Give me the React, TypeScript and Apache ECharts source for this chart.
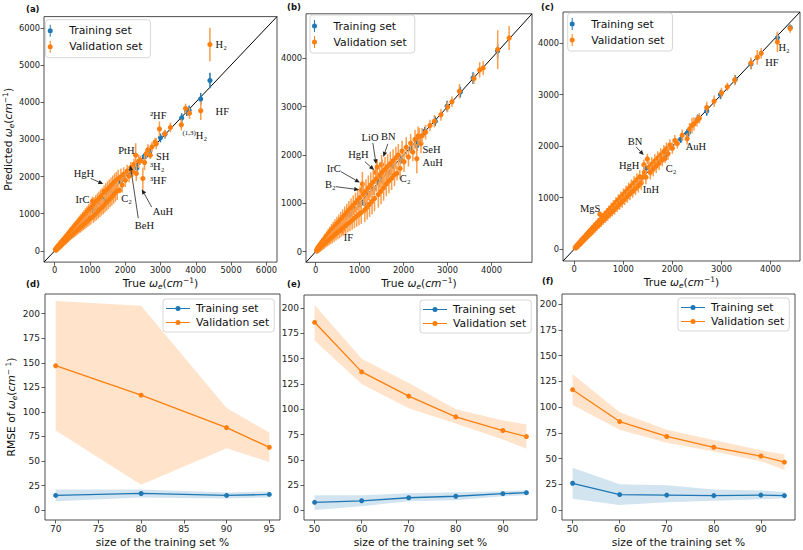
import React, { useEffect, useRef } from "react";
import * as echarts from "echarts";

const BLUE = "#1f77b4";
const ORANGE = "#ff7f0e";
const FONT = "'DejaVu Sans', sans-serif";
const SERIF = "'Liberation Serif', 'DejaVu Serif', serif";

// ---------- top row: parity plots [true, predicted, error] ----------
const limA = [-300, 6300];
const limB = [-220, 4920];
const limC = [-229, 4600];
const ticksA = [0, 1000, 2000, 3000, 4000, 5000, 6000];
const ticksB = [0, 1000, 2000, 3000, 4000];
const ticksC = [0, 1000, 2000, 3000, 4000];

const trainA = [
  [35, 42, 20], [118, 110, 25], [205, 222, 30], [318, 309, 35], [412, 431, 35], [536, 522, 40], [618, 640, 45], [742, 728, 45],
  [856, 871, 50], [948, 936, 55], [1063, 1081, 55], [1172, 1160, 60], [1268, 1290, 60], [1391, 1372, 65], [1470, 1552, 70], [1583, 1598, 70],
  [1694, 1676, 75], [1868, 1872, 80], [1952, 1940, 85], [2096, 2110, 90], [2290, 2300, 100], [2330, 2232, 110], [2410, 2415, 100],
  [2540, 2538, 90], [2580, 2560, 95], [2680, 2650, 100], [2998, 3040, 120], [3125, 3135, 110], [3600, 3572, 130], [3745, 3748, 120],
  [3810, 3782, 130], [4138, 4085, 160], [4401, 4582, 210],
];
const validA = [
  [22, 40, 35], [38, 18, 35], [52, 82, 45], [66, 48, 40], [81, 112, 50], [97, 72, 45], [112, 152, 55], [128, 96, 50],
  [146, 186, 60], [161, 128, 55], [179, 226, 60], [196, 160, 65], [213, 262, 65], [229, 196, 60], [247, 306, 70], [266, 222, 65],
  [284, 344, 70], [302, 254, 75], [321, 386, 75], [339, 286, 80], [358, 430, 80], [377, 322, 85], [395, 470, 85], [414, 352, 80],
  [433, 516, 90], [452, 390, 90], [471, 560, 95], [490, 420, 90], [510, 606, 100], [529, 448, 95], [549, 650, 100], [568, 486, 105],
  [588, 690, 105], [607, 520, 110], [627, 736, 110], [647, 552, 115], [667, 780, 120], [688, 586, 120], [708, 826, 125], [729, 618, 125],
  [749, 866, 130], [770, 660, 135], [791, 912, 135], [812, 694, 140], [833, 956, 140], [855, 730, 145], [876, 1000, 150], [898, 770, 150],
  [919, 1046, 155], [941, 806, 155], [963, 1094, 160], [985, 846, 165], [1007, 1136, 165], [1029, 884, 170], [1052, 1180, 170], [1075, 1340, 120],
  [1097, 926, 175], [1120, 1262, 180], [1143, 976, 180], [1166, 1314, 185], [1189, 1016, 190], [1212, 1356, 190], [1236, 1066, 195], [1259, 1404, 195],
  [1283, 1106, 200], [1306, 1452, 200], [1330, 1156, 205], [1354, 1494, 205], [1378, 1196, 210], [1402, 1598, 160], [1426, 1246, 210], [1450, 1602, 215],
  [1475, 1296, 215], [1499, 1652, 220], [1524, 1346, 220], [1548, 1702, 220], [1573, 1398, 225], [1598, 1752, 225], [1623, 1448, 230], [1648, 1800, 230],
  [1673, 1500, 230], [1698, 1850, 235], [1724, 1558, 235], [1749, 1892, 235], [1775, 1610, 240], [1800, 1942, 240], [1842, 1632, 80], [1878, 1996, 220],
  [1912, 1770, 200], [1958, 2060, 190], [2004, 1900, 180], [2056, 2150, 170], [2108, 2010, 160], [2160, 2240, 150], [2212, 2130, 140],
  [2250, 2330, 150], [2297, 2575, 320], [2315, 2080, 200], [2380, 2410, 180], [2430, 2440, 120], [2500, 1945, 300], [2548, 2378, 200], [2600, 2620, 120],
  [2645, 2720, 150], [2710, 2572, 100], [2760, 2800, 130], [2850, 2930, 110], [2880, 2880, 150], [2970, 3280, 200], [3120, 3150, 110], [3280, 3320, 130],
  [3590, 3390, 150], [3710, 3830, 130], [3820, 3700, 150], [4140, 3770, 250], [4400, 5550, 450],
];

const trainB = [
  [40, 48, 25], [132, 124, 30], [226, 240, 30], [335, 322, 35], [448, 466, 40], [552, 540, 40], [664, 680, 45], [772, 760, 45], [885, 900, 50], [992, 978, 55],
  [1098, 1002, 60], [1195, 1210, 60], [1312, 1296, 65], [1420, 1436, 65], [1502, 1488, 70], [1640, 1620, 75], [1760, 1778, 75], [1940, 1902, 80], [2160, 2128, 90], [2300, 2192, 110],
  [2312, 2312, 100], [2345, 2322, 100], [2480, 2492, 90], [2720, 2700, 100], [2990, 3010, 110], [3290, 3300, 110], [3580, 3590, 120], [4138, 4150, 150],
];
const validB = [
  [18, 30, 45], [34, 12, 50], [47, 80, 55], [63, 40, 55], [79, 120, 65], [94, 60, 60], [111, 160, 70], [127, 90, 70], [144, 200, 80], [160, 120, 80],
  [178, 240, 90], [195, 150, 90], [212, 280, 95], [229, 180, 95], [248, 320, 100], [266, 210, 100], [284, 365, 110], [303, 240, 110], [322, 405, 115], [341, 270, 115],
  [360, 450, 125], [380, 300, 125], [400, 490, 130], [420, 335, 130], [441, 530, 140], [462, 370, 140], [483, 575, 145], [504, 400, 145], [526, 620, 150], [548, 435, 150],
  [570, 665, 160], [592, 470, 160], [610, 448, 100], [615, 710, 165], [638, 500, 165], [661, 760, 175], [684, 540, 175], [708, 810, 180], [732, 575, 180], [756, 860, 190],
  [780, 610, 190], [805, 910, 195], [830, 650, 195], [855, 960, 205], [880, 690, 205], [906, 1010, 210], [932, 730, 215], [958, 1070, 220], [984, 770, 225], [1010, 1120, 230],
  [1037, 810, 235], [1048, 1272, 150], [1062, 1400, 250], [1090, 1190, 240], [1117, 860, 245], [1144, 1250, 250], [1171, 920, 255], [1198, 1320, 255], [1226, 980, 260], [1254, 1380, 260],
  [1282, 1040, 265], [1310, 1440, 265], [1338, 1100, 265], [1368, 1640, 100], [1380, 1510, 270], [1400, 1750, 150], [1426, 1180, 270], [1456, 1580, 270], [1486, 1250, 270], [1500, 1800, 200],
  [1516, 1640, 265], [1546, 1320, 265], [1576, 1700, 260], [1606, 1400, 255], [1636, 1760, 255], [1666, 1460, 250], [1697, 1820, 250], [1728, 1520, 245], [1760, 1880, 240], [1792, 1590, 235],
  [1824, 1940, 230], [1850, 1620, 150], [1880, 2000, 225], [1920, 1720, 220], [1965, 2080, 215], [2010, 1860, 210], [2060, 2160, 205], [2110, 1960, 200], [2160, 2240, 195], [2210, 2060, 190],
  [2260, 2320, 200], [2300, 1920, 300], [2330, 2390, 200], [2360, 2380, 180], [2395, 2235, 200], [2420, 2400, 160], [2500, 2470, 150], [2600, 2610, 120], [2700, 2700, 130],
  [2850, 2830, 120], [3000, 2990, 110], [3100, 3100, 110], [3270, 3320, 150], [3600, 3580, 110], [3730, 3760, 160], [3810, 3800, 150], [4140, 4180, 400], [4400, 4420, 250],
];

const trainC = [
  [30, 36, 15], [140, 134, 20], [248, 260, 20], [360, 352, 25], [470, 482, 25], [585, 576, 30], [700, 712, 30], [812, 800, 35], [920, 936, 35], [1035, 1020, 40],
  [1150, 1166, 40], [1262, 1250, 45], [1375, 1390, 45], [1460, 1570, 50], [1600, 1592, 50], [1720, 1732, 55], [1850, 1830, 60], [1882, 1852, 60], [2170, 2130, 70], [2300, 2250, 80],
  [2330, 2262, 80], [2520, 2530, 80], [2700, 2680, 90], [2980, 3000, 90], [3280, 3290, 90], [3600, 3590, 100], [4140, 4100, 100], [4400, 4300, 60],
];
const validC = [
  [20, 30, 30], [36, 24, 30], [51, 70, 35], [67, 52, 35], [83, 106, 35], [99, 82, 40], [115, 140, 40], [131, 112, 40], [148, 176, 45], [165, 146, 45],
  [182, 212, 45], [199, 176, 50], [216, 248, 50], [234, 212, 50], [252, 286, 55], [270, 246, 55], [288, 324, 55], [306, 280, 60], [325, 362, 60], [344, 316, 60],
  [363, 402, 65], [382, 352, 65], [401, 442, 65], [421, 390, 70], [441, 484, 70], [461, 428, 70], [481, 524, 75], [501, 466, 75], [522, 680, 50], [530, 566, 75], [548, 512, 80],
  [570, 616, 80], [592, 556, 80], [614, 662, 85], [636, 596, 85], [659, 710, 85], [682, 640, 90], [705, 758, 90], [728, 684, 90], [752, 806, 95], [776, 728, 95],
  [800, 856, 95], [824, 772, 100], [849, 908, 100], [874, 820, 100], [899, 960, 105], [924, 866, 105], [950, 1012, 105], [976, 916, 110], [1002, 1066, 110], [1028, 966, 110],
  [1055, 1120, 115], [1082, 1016, 115], [1109, 1176, 115], [1136, 1068, 120], [1164, 1232, 120], [1192, 1120, 120], [1220, 1290, 125], [1248, 1172, 125], [1277, 1348, 125], [1306, 1226, 130],
  [1335, 1404, 130], [1364, 1282, 130], [1394, 1396, 120], [1420, 1640, 100], [1430, 1494, 135], [1460, 1396, 135], [1490, 1750, 100], [1520, 1590, 135], [1550, 1486, 135],
  [1580, 1650, 135], [1610, 1548, 135], [1640, 1710, 135], [1670, 1608, 130], [1700, 1770, 130], [1730, 1668, 130], [1762, 1830, 125], [1794, 1730, 125], [1826, 1896, 125], [1850, 1760, 90],
  [1880, 1950, 120], [1912, 1850, 115], [1950, 2020, 110], [2000, 1960, 110], [2050, 2110, 105], [2100, 2050, 100],
  [2200, 2210, 110], [2300, 2140, 110], [2350, 2330, 120], [2400, 2400, 150], [2440, 2430, 130], [2500, 2490, 110], [2550, 2540, 100], [2700, 2750, 110], [2850, 2870, 110],
  [3000, 3030, 100], [3120, 3150, 80], [3270, 3280, 100], [3600, 3610, 110], [3730, 3720, 140], [3810, 3800, 100], [4140, 4020, 200], [4400, 4280, 80],
];

// annotation texts (anchored at data coordinates, left / middle)
const labelsA = [
  { text: "H₂", x: 4560, y: 5550 }, { text: "HF", x: 4560, y: 3740 }, { text: "²HF", x: 2700, y: 3650 },
  { text: "{s|(1,3)}H₂", x: 3620, y: 3110 }, { text: "PtH", x: 1800, y: 2710 }, { text: "SH", x: 2870, y: 2550 },
  { text: "³H₂", x: 2700, y: 2260 }, { text: "³HF", x: 2700, y: 1900 }, { text: "AuH", x: 2780, y: 1050 },
  { text: "BeH", x: 2270, y: 690 }, { text: "HgH", x: 540, y: 2080 }, { text: "IrC", x: 590, y: 1380 }, { text: "C₂", x: 1890, y: 1410 },
];
const arrowsA = [
  [1020, 1950, 1380, 1800], [2370, 880, 2145, 2300], [2750, 1180, 2470, 1660],
];
const labelsB = [
  { text: "LiO", x: 1045, y: 2360 }, { text: "BN", x: 1485, y: 2380 }, { text: "HgH", x: 740, y: 2000 },
  { text: "IrC", x: 250, y: 1725 }, { text: "B₂", x: 210, y: 1380 }, { text: "IF", x: 640, y: 300 },
  { text: "C₂", x: 1915, y: 1520 }, { text: "SeH", x: 2430, y: 2120 }, { text: "AuH", x: 2430, y: 1850 },
];
const arrowsB = [
  [1300, 2250, 1375, 1810], [1640, 2230, 1540, 1960], [1120, 1860, 1330, 1690], [575, 1655, 1005, 1430], [455, 1345, 990, 1280],
];
const labelsC = [
  { text: "H₂", x: 4160, y: 3920 }, { text: "HF", x: 3890, y: 3620 }, { text: "AuH", x: 2270, y: 2000 },
  { text: "BN", x: 1090, y: 2090 }, { text: "HgH", x: 910, y: 1630 }, { text: "C₂", x: 1865, y: 1560 },
  { text: "InH", x: 1395, y: 1160 }, { text: "MgS", x: 115, y: 780 },
];
const arrowsC = [[1260, 1985, 1415, 1825]];

// ---------- bottom row: learning curves ----------
const sizeD = [70, 80, 90, 95];
const trainD = [15, 17, 15, 16];
const trainDLo = [9, 13, 12, 13];
const trainDHi = [21, 21, 18, 19];
const validD = [147, 117, 84, 64];
const validDLo = [81, 26, 63, 49];
const validDHi = [213, 208, 104, 79];

const sizeE = [50, 60, 70, 80, 90, 95];
const trainE = [8, 9.5, 12.5, 14, 16.5, 17.5];
const trainELo = [0.5, 4, 9, 10, 14, 15];
const trainEHi = [15, 15, 17, 18, 19, 20];
const validE = [186, 137, 113, 92.5, 79, 73];
const validELo = [168, 125, 101, 86, 70, 61];
const validEHi = [203, 150, 126, 100, 89, 85];

const sizeF = [50, 60, 70, 80, 90, 95];
const trainF = [26, 15, 14.5, 14, 14.5, 14];
const trainFLo = [11, 5, 7.5, 9, 10.5, 11.5];
const trainFHi = [41, 25, 24, 20, 19, 17.5];
const validF = [117, 86, 71.5, 61, 52.5, 46.5];
const validFLo = [102, 78, 65.5, 57, 47.5, 39];
const validFHi = [132, 95, 78, 68, 58, 54];

const xLimD = [68.75, 96.25];
const xLimE = [47.75, 97.25];
const xLimF = [47.75, 97.25];
const yLimD = [-10, 220];
const yLimE = [-9.5, 213];
const yLimF = [-9.7, 210];
const xTicksD = [70, 75, 80, 85, 90, 95];
const xTicksEF = [50, 60, 70, 80, 90];
const yTicksRMSE = [0, 25, 50, 75, 100, 125, 150, 175, 200];

// ---------- layout ----------
const topPanels = [
  { train: trainA, valid: validA, lim: limA, ticks: ticksA, labels: labelsA, arrows: arrowsA,
    grid: { left: 40, top: 16.6, width: 237, height: 245.5 }, legend: { left: 45.7, top: 19.7 }, yName: true },
  { train: trainB, valid: validB, lim: limB, ticks: ticksB, labels: labelsB, arrows: arrowsB,
    grid: { left: 306, top: 13.8, width: 226, height: 248.5 }, legend: { left: 310, top: 15 }, yName: false },
  { train: trainC, valid: validC, lim: limC, ticks: ticksC, labels: labelsC, arrows: arrowsC,
    grid: { left: 563, top: 12, width: 237, height: 249 }, legend: { left: 567.7, top: 13 }, yName: false },
];
const bottomPanels = [
  { x: sizeD, tr: trainD, trLo: trainDLo, trHi: trainDHi, va: validD, vaLo: validDLo, vaHi: validDHi, xLim: xLimD, yLim: yLimD, xTicks: xTicksD,
    grid: { left: 45, top: 294, width: 235, height: 227 }, legend: { left: 163, top: 299 }, yName: true },
  { x: sizeE, tr: trainE, trLo: trainELo, trHi: trainEHi, va: validE, vaLo: validELo, vaHi: validEHi, xLim: xLimE, yLim: yLimE, xTicks: xTicksEF,
    grid: { left: 304, top: 295, width: 233, height: 226 }, legend: { left: 420, top: 300 }, yName: false },
  { x: sizeF, tr: trainF, trLo: trainFLo, trHi: trainFHi, va: validF, vaLo: validFLo, vaHi: validFHi, xLim: xLimF, yLim: yLimF, xTicks: xTicksEF,
    grid: { left: 562, top: 294, width: 233, height: 227 }, legend: { left: 678, top: 298 }, yName: false },
];
const tags = [
  { t: "(a)", x: 26, y: 9 }, { t: "(b)", x: 287, y: 7 }, { t: "(c)", x: 541, y: 7 },
  { t: "(d)", x: 26, y: 284 }, { t: "(e)", x: 287, y: 284 }, { t: "(f)", x: 542, y: 281 },
];

const ERR_ICON = "path://M4,0h1v12h-1z M2,6a2.5,2.5 0 1,1 5,0a2.5,2.5 0 1,1 -5,0z";
const LINE_ICON = "path://M0,2h24v1h-24z M9.5,2.5a2.5,2.5 0 1,1 5,0a2.5,2.5 0 1,1 -5,0z";

const nameRich = {
  i: { fontStyle: "italic", fontSize: 10.7, fontFamily: FONT, color: "#111", lineHeight: 14 },
  sub: { fontStyle: "italic", fontSize: 7.5, fontFamily: FONT, color: "#111", verticalAlign: "bottom", lineHeight: 9 },
  sup: { fontSize: 7.5, fontFamily: FONT, color: "#111", verticalAlign: "top", lineHeight: 9 },
};
const TRUE_NAME = "True {i|ω}{sub|e}({i|cm}{sup|−1})";
const PRED_NAME = "Predicted {i|ω}{sub|e}({i|cm}{sup|−1})";
const RMSE_NAME = "RMSE of {i|ω}{sub|e}({i|cm}{sup|− 1})";
const XB_NAME = "size of the training set %";

function axis(gi: number, lim: number[], ticks: number[], fs: number, margin: number, name?: string, gap?: number) {
  return {
    type: "value", gridIndex: gi, min: lim[0], max: lim[1],
    name: name || "", nameLocation: "middle", nameGap: gap || 0,
    nameTextStyle: { fontSize: 10.7, fontFamily: FONT, color: "#111", lineHeight: 14, rich: nameRich },
    axisLine: { show: false, onZero: false },
    splitLine: { show: false },
    axisTick: { show: true, inside: false, length: 3.5, customValues: ticks, lineStyle: { color: "#333", width: 0.8 } },
    axisLabel: { customValues: ticks, fontSize: fs, color: "#222", fontFamily: FONT, margin, formatter: (v: number) => String(v) },
  };
}

function errRender(color: string, barColor: string) {
  return (params: any, api: any) => {
    const x = api.value(0), y = api.value(1), e = api.value(2);
    const t = api.coord([x, y + e]);
    const b = api.coord([x, y - e]);
    const c = api.coord([x, y]);
    return {
      type: "group",
      children: [
        { type: "line", shape: { x1: t[0], y1: t[1], x2: b[0], y2: b[1] }, style: { stroke: barColor, lineWidth: 1.5 } },
        { type: "circle", shape: { cx: c[0], cy: c[1], r: 2.6 }, style: { fill: color } },
      ],
    };
  };
}

function buildOption() {
  const grids: any[] = [];
  const xAxes: any[] = [];
  const yAxes: any[] = [];
  const series: any[] = [];
  const legends: any[] = [];

  topPanels.forEach((p, i) => {
    grids.push({ ...p.grid, show: true, borderColor: "#3a3a3a", borderWidth: 0.9, backgroundColor: "transparent" });
    xAxes.push(axis(i, p.lim, p.ticks, 8.3, 4, TRUE_NAME, 14));
    yAxes.push(axis(i, p.lim, p.ticks, 8.3, 4, p.yName ? PRED_NAME : "", 25));
  });
  bottomPanels.forEach((p, k) => {
    const gi = 3 + k;
    grids.push({ ...p.grid, show: true, borderColor: "#3a3a3a", borderWidth: 0.9, backgroundColor: "transparent" });
    xAxes.push(axis(gi, p.xLim, p.xTicks, 9, 4.5, XB_NAME, 15));
    yAxes.push(axis(gi, p.yLim, yTicksRMSE, 9, 5, p.yName ? RMSE_NAME : "", 24));
  });

  bottomPanels.forEach((p, k) => {
    const gi = 3 + k;
    series.push({
      type: "line", name: "Training set", xAxisIndex: gi, yAxisIndex: gi, z: 5,
      data: p.x.map((x, j) => [x, p.tr[j]]), color: BLUE, symbol: "circle", symbolSize: 5, showSymbol: true,
      lineStyle: { width: 1.3, color: BLUE }, itemStyle: { color: BLUE },
    });
    series.push({
      type: "line", name: "Validation set", xAxisIndex: gi, yAxisIndex: gi, z: 5,
      data: p.x.map((x, j) => [x, p.va[j]]), color: ORANGE, symbol: "circle", symbolSize: 5, showSymbol: true,
      lineStyle: { width: 1.3, color: ORANGE }, itemStyle: { color: ORANGE },
    });
    const band = (lo: number[], hi: number[], fill: string) => ({
      type: "custom", xAxisIndex: gi, yAxisIndex: gi, z: 1, silent: true,
      data: [[p.x[0], lo[0]]],
      renderItem: (params: any, api: any) => {
        const pts: number[][] = [];
        p.x.forEach((x, j) => pts.push(api.coord([x, hi[j]])));
        for (let j = p.x.length - 1; j >= 0; j--) pts.push(api.coord([p.x[j], lo[j]]));
        return { type: "polygon", shape: { points: pts }, style: { fill } };
      },
    });
    series.push(band(p.trLo, p.trHi, "rgba(31,119,180,0.2)"));
    series.push(band(p.vaLo, p.vaHi, "rgba(255,127,14,0.22)"));
    legends.push({
      left: p.legend.left, top: p.legend.top, orient: "vertical", selectedMode: false,
      data: [{ name: "Training set", icon: LINE_ICON }, { name: "Validation set", icon: LINE_ICON }],
      itemWidth: 26, itemHeight: 5, itemGap: 3, padding: [4, 5, 4, 3],
      backgroundColor: "rgba(255,255,255,0.85)", borderColor: "#cccccc", borderWidth: 0.8, borderRadius: 3,
      textStyle: { fontSize: 10.8, fontFamily: FONT, color: "#111" },
    });
  });

  topPanels.forEach((p, i) => {
    series.push({
      type: "line", xAxisIndex: i, yAxisIndex: i, z: 1, silent: true, symbol: "none",
      data: [[p.lim[0], p.lim[0]], [p.lim[1], p.lim[1]]],
      lineStyle: { color: "#000", width: 1 },
    });
    series.push({
      type: "custom", name: "Training set", xAxisIndex: i, yAxisIndex: i, z: 2, silent: true,
      data: p.train, itemStyle: { color: BLUE }, renderItem: errRender(BLUE, BLUE),
    });
    series.push({
      type: "custom", name: "Validation set", xAxisIndex: i, yAxisIndex: i, z: 3, silent: true,
      data: p.valid, itemStyle: { color: ORANGE }, renderItem: errRender(ORANGE, "#fb9d4a"),
    });
    series.push({
      type: "custom", xAxisIndex: i, yAxisIndex: i, z: 4, silent: true,
      data: p.arrows,
      renderItem: (params: any, api: any) => {
        const a = api.coord([api.value(0), api.value(1)]);
        const b = api.coord([api.value(2), api.value(3)]);
        const dx = b[0] - a[0], dy = b[1] - a[1];
        const len = Math.hypot(dx, dy) || 1;
        const ux = dx / len, uy = dy / len;
        const hl = 5, hw = 2.2;
        const base = [b[0] - ux * hl, b[1] - uy * hl];
        return {
          type: "group",
          children: [
            { type: "line", shape: { x1: a[0], y1: a[1], x2: base[0], y2: base[1] }, style: { stroke: "#222", lineWidth: 0.8 } },
            { type: "polygon", shape: { points: [b, [base[0] - uy * hw, base[1] + ux * hw], [base[0] + uy * hw, base[1] - ux * hw]] }, style: { fill: "#222" } },
          ],
        };
      },
    });
    series.push({
      type: "custom", xAxisIndex: i, yAxisIndex: i, z: 4, silent: true,
      data: p.labels.map((l) => [l.x, l.y]),
      renderItem: (params: any, api: any) => {
        const c = api.coord([api.value(0), api.value(1)]);
        const l = p.labels[params.dataIndex];
        return {
          type: "text", x: c[0], y: c[1],
          style: {
            text: l.text, fill: "#111", fontSize: 10.5, fontFamily: SERIF, align: "left", verticalAlign: "middle",
            rich: { s: { fontSize: 7, fontFamily: SERIF, fill: "#111", verticalAlign: "top", lineHeight: 8 } },
          },
        };
      },
    });
    legends.push({
      left: p.legend.left, top: p.legend.top, orient: "vertical", selectedMode: false,
      data: [{ name: "Training set", icon: ERR_ICON }, { name: "Validation set", icon: ERR_ICON }],
      itemWidth: 28, itemHeight: 12, itemGap: 4, padding: [5, 8, 5, 2],
      backgroundColor: "rgba(255,255,255,0.85)", borderColor: "#cccccc", borderWidth: 0.8, borderRadius: 3,
      textStyle: { fontSize: 10.8, fontFamily: FONT, color: "#111" },
    });
  });

  const graphic = tags.map((t) => ({
    type: "text", left: t.x, top: t.y - 5, silent: true,
    style: { text: t.t, fontSize: 8.5, fontWeight: "bold", fontFamily: FONT, fill: "#111" },
  }));

  return {
    animation: false,
    backgroundColor: "#ffffff",
    grid: grids,
    xAxis: xAxes,
    yAxis: yAxes,
    legend: legends,
    series,
    graphic,
  };
}

export default function App() {
  const ref = useRef<HTMLDivElement>(null);
  useEffect(() => {
    document.body.style.margin = "0";
    if (!ref.current) return;
    const chart = echarts.init(ref.current, undefined, { renderer: "svg" });
    chart.setOption(buildOption() as any);
    return () => chart.dispose();
  }, []);
  return <div ref={ref} style={{ width: 803, height: 550 }} />;
}
